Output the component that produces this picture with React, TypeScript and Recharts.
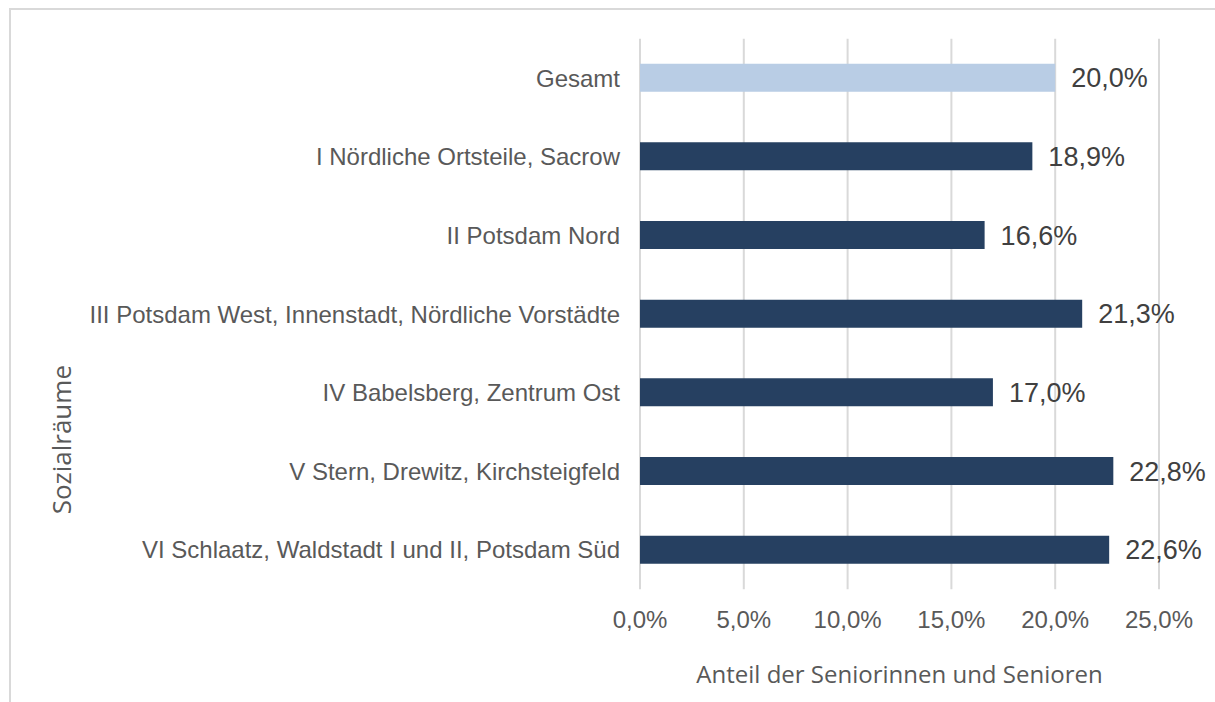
import React from "react";
import { BarChart, Bar, XAxis, YAxis, CartesianGrid, Cell, LabelList, Label } from "recharts";

const categories = [
  "Gesamt",
  "I Nördliche Ortsteile, Sacrow",
  "II Potsdam Nord",
  "III Potsdam West, Innenstadt, Nördliche Vorstädte",
  "IV Babelsberg, Zentrum Ost",
  "V Stern, Drewitz, Kirchsteigfeld",
  "VI Schlaatz, Waldstadt I und II, Potsdam Süd",
];
const values = [20.0, 18.9, 16.6, 21.3, 17.0, 22.8, 22.6];
const xTicks = [0, 5, 10, 15, 20, 25];
const xTitle = "Anteil der Seniorinnen  und Senioren";
const yTitle = "Sozialräume";

const data = categories.map((name, i) => ({ name, value: values[i] }));

const fmt = (v: number) => v.toFixed(1).replace(".", ",") + "%";

const LABEL_FONT = "'Liberation Sans', Arial, sans-serif";
const TITLE_FONT = "'Open Sans', sans-serif";

export default function App() {
  return (
    <div style={{ position: "absolute", left: 0, top: 0, width: 1215, height: 702, overflow: "hidden", background: "#fff" }}>
      <div
        style={{
          position: "absolute",
          left: 9,
          top: 8,
          width: 1300,
          height: 800,
          borderTop: "2px solid #d9d9d9",
          borderLeft: "2px solid #d9d9d9",
        }}
      />
      <div style={{ position: "absolute", left: 0, top: 0 }}>
        <BarChart
          width={1215}
          height={702}
          data={data}
          layout="vertical"
          margin={{ top: 38.7, right: 56, bottom: 52.7, left: 0 }}
          barCategoryGap="32%"
        >
          <CartesianGrid horizontal={false} stroke="#d9d9d9" strokeWidth={2} />
          <XAxis
            type="number"
            domain={[0, 25]}
            ticks={xTicks}
            tickFormatter={fmt}
            axisLine={false}
            tickLine={false}
            tickSize={0}
            tickMargin={22}
            height={60}
            tick={{ fill: "#595959", fontSize: 24, fontFamily: LABEL_FONT }}
            interval={0}
          >
            <Label
              value={xTitle}
              position="bottom"
              offset={17}
              style={{ fill: "#595959", fontSize: 24, fontFamily: TITLE_FONT, whiteSpace: "pre" }}
            />
          </XAxis>
          <YAxis
            type="category"
            dataKey="name"
            width={640}
            axisLine={false}
            tickLine={false}
            tickSize={0}
            tickMargin={20}
            interval={0}
            tick={{ fill: "#595959", fontSize: 24, fontFamily: LABEL_FONT }}
          >
            <Label
              content={(props: any) => {
                const vb = props.viewBox || { x: 0, y: 0 };
                const cx = vb.x + 61;
                const cy = vb.y + 401;
                return (
                  <text
                    x={cx}
                    y={cy}
                    transform={`rotate(-90, ${cx}, ${cy})`}
                    textAnchor="middle"
                    dominantBaseline="central"
                    fill="#595959"
                    fontSize={26}
                    fontFamily={TITLE_FONT}
                  >
                    {yTitle}
                  </text>
                );
              }}
            />
          </YAxis>
          <Bar dataKey="value" barSize={28} isAnimationActive={false}>
            {data.map((d, i) => (
              <Cell key={d.name} fill={i === 0 ? "#b9cde5" : "#264061"} />
            ))}
            <LabelList
              dataKey="value"
              position="right"
              offset={16}
              formatter={(v: any) => fmt(Number(v))}
              style={{ fill: "#404040", fontSize: 27, fontFamily: LABEL_FONT }}
            />
          </Bar>
        </BarChart>
      </div>
    </div>
  );
}
